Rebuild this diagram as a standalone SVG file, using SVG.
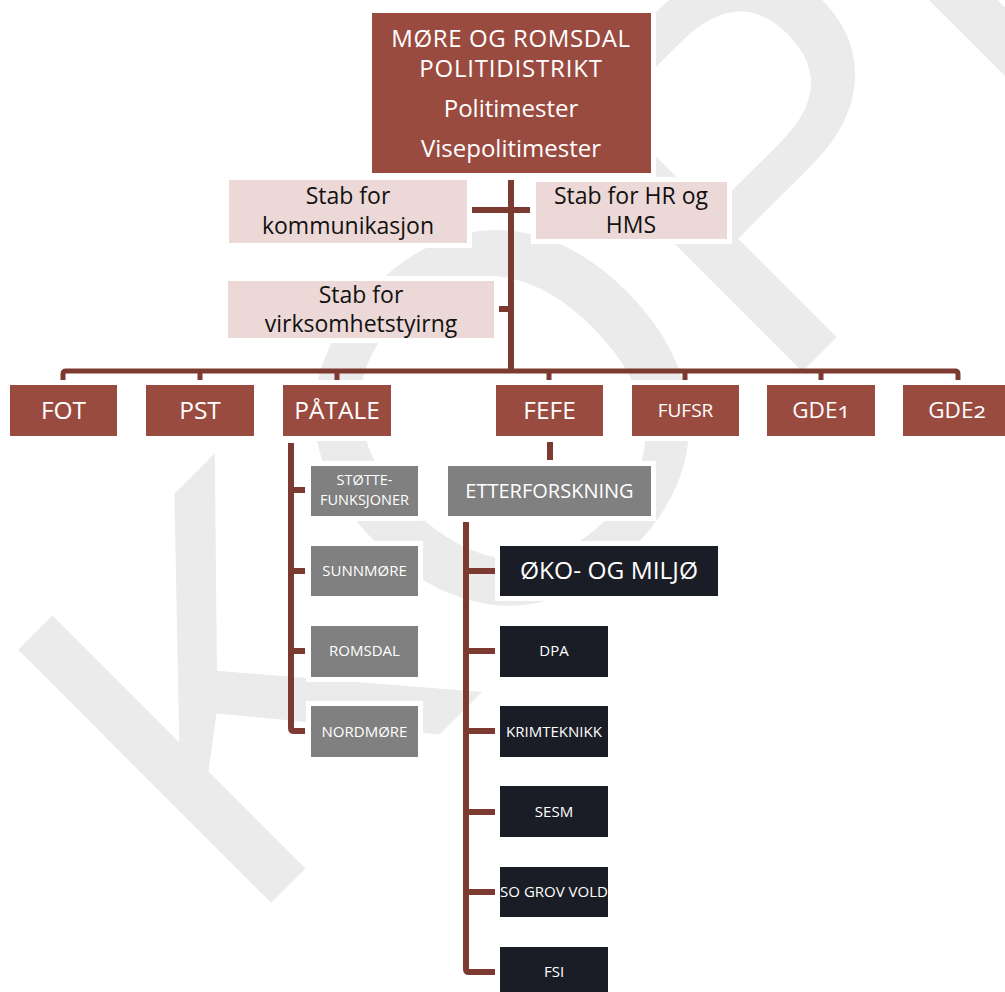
<svg xmlns="http://www.w3.org/2000/svg" width="1005" height="992" viewBox="0 0 1005 992">
<style>
.t{font-family:"Open Sans","Liberation Sans",sans-serif;text-anchor:middle}
.w{fill:#fff}
.k{fill:#111}
.halo{stroke:#fff;stroke-width:10;paint-order:stroke}
.red{fill:#9a4b40}
.pink{fill:#ecd8d6}
.gray{fill:#808080}
.dark{fill:#1a1d25}
.ln{fill:none;stroke:#7c3a31;stroke-width:6;stroke-linejoin:round}
.bar{fill:none;stroke:#7c3a31;stroke-width:5;stroke-linejoin:round}
.wm{font-family:"Liberation Sans",Arial,sans-serif;font-size:520px;fill:#ebebeb}
.on{font-feature-settings:"onum" 1;font-variant-numeric:oldstyle-nums}
</style>
<rect width="1005" height="992" fill="#fff"/>
<text class="wm" x="241" y="933" transform="rotate(-45 241 933)">KOPI</text>

<g id="top">
<rect class="red halo" x="372" y="13" width="279" height="160"/>
<text class="t w" font-size="24" letter-spacing="0.6" x="511" y="47">MØRE OG ROMSDAL</text>
<text class="t w" font-size="24" letter-spacing="0.8" x="511" y="77">POLITIDISTRIKT</text>
<text class="t w" font-size="24" x="511" y="117">Politimester</text>
<text class="t w" font-size="24" x="511" y="157">Visepolitimester</text>
</g>
<g id="stab-kommunikasjon">
<rect class="pink halo" x="229" y="180" width="238" height="63"/>
<text class="t k" font-size="23" x="348" y="204">Stab for</text>
<text class="t k" font-size="23" x="348" y="234">kommunikasjon</text>
</g>
<g id="stab-hr">
<rect class="pink halo" x="536" y="182" width="191" height="57"/>
<text class="t k" font-size="23" x="631" y="204">Stab for HR og</text>
<text class="t k" font-size="23" x="631" y="233">HMS</text>
</g>
<g id="stab-virksomhet">
<rect class="pink halo" x="228" y="281" width="266" height="57"/>
<text class="t k" font-size="23" x="361" y="303">Stab for</text>
<text class="t k" font-size="23" x="361" y="332">virksomhetstyirng</text>
</g>

<g id="fot"><rect class="red halo" x="10" y="385" width="107" height="51"/><text class="t w" font-size="24.5" x="63.5" y="419">FOT</text></g>
<g id="pst"><rect class="red halo" x="146" y="385" width="108" height="51"/><text class="t w" font-size="24.5" x="200" y="419">PST</text></g>
<g id="patale"><rect class="red halo" x="283" y="385" width="108" height="51"/><text class="t w" font-size="24.5" x="337" y="419">PÅTALE</text></g>
<g id="fefe"><rect class="red halo" x="496" y="385" width="107" height="51"/><text class="t w" font-size="24.5" x="549.5" y="419">FEFE</text></g>
<g id="fufsr"><rect class="red halo" x="632" y="385" width="107" height="51"/><text class="t w" font-size="19" x="685.5" y="417">FUFSR</text></g>
<g id="gde1"><rect class="red halo" x="767" y="385" width="108" height="51"/><text class="t w on" font-size="22.5" x="821" y="418">GDE1</text></g>
<g id="gde2"><rect class="red halo" x="903" y="385" width="108" height="51"/><text class="t w on" font-size="22.5" x="957" y="418">GDE2</text></g>

<g id="stottefunksjoner"><rect class="gray halo" x="311" y="466" width="107" height="50"/>
<text class="t w" font-size="14.5" x="364.5" y="485">STØTTE-</text><text class="t w" font-size="14.5" x="364.5" y="505">FUNKSJONER</text></g>
<g id="sunnmore"><rect class="gray halo" x="311" y="546" width="107" height="50"/><text class="t w" font-size="15" x="364.5" y="576">SUNNMØRE</text></g>
<g id="romsdal"><rect class="gray halo" x="311" y="626" width="107" height="51"/><text class="t w" font-size="15" x="364.5" y="656">ROMSDAL</text></g>
<g id="nordmore"><rect class="gray halo" x="311" y="706" width="107" height="51"/><text class="t w" font-size="15" x="364.5" y="737">NORDMØRE</text></g>

<g id="etterforskning"><rect class="gray halo" x="448" y="466" width="203" height="50"/><text class="t w" font-size="20" x="549.5" y="498">ETTERFORSKNING</text></g>

<g id="oko"><rect class="dark halo" x="500" y="546" width="218" height="50"/><text class="t w" font-size="24.5" x="609" y="579">ØKO- OG MILJØ</text></g>
<g id="dpa"><rect class="dark halo" x="500" y="626" width="108" height="51"/><text class="t w" font-size="15" x="554" y="656">DPA</text></g>
<g id="krimteknikk"><rect class="dark halo" x="500" y="706" width="108" height="51"/><text class="t w" font-size="15" x="554" y="737">KRIMTEKNIKK</text></g>
<g id="sesm"><rect class="dark halo" x="500" y="786" width="108" height="51"/><text class="t w" font-size="15" x="554" y="817">SESM</text></g>
<g id="sogrovvold"><rect class="dark halo" x="500" y="867" width="108" height="50"/><text class="t w" font-size="15" x="554" y="897">SO GROV VOLD</text></g>
<g id="fsi"><rect class="dark halo" x="500" y="947" width="108" height="51"/><text class="t w" font-size="15" x="554" y="977">FSI</text></g>

<g id="connectors">
<path class="ln" d="M511,180 V371"/>
<path class="ln" d="M472,210 H530"/>
<path class="ln" d="M499,309 H511"/>
<path class="bar" d="M63,380 V374 Q63,371 66,371 H955 Q958,371 958,374 V380 M200,371 V380 M337,371 V380 M549,371 V380 M685,371 V380 M821,371 V380"/>
<path class="ln" d="M291,443 V728 Q291,731 294,731 H305 M291,490 H305 M291,571 H305 M291,651 H305"/>
<path class="ln" d="M550,442 V460"/>
<path class="ln" d="M466,522 V969 Q466,972 469,972 H495 M466,571 H495 M466,651 H495 M466,731 H495 M466,812 H495 M466,892 H495"/>
</g>
</svg>
